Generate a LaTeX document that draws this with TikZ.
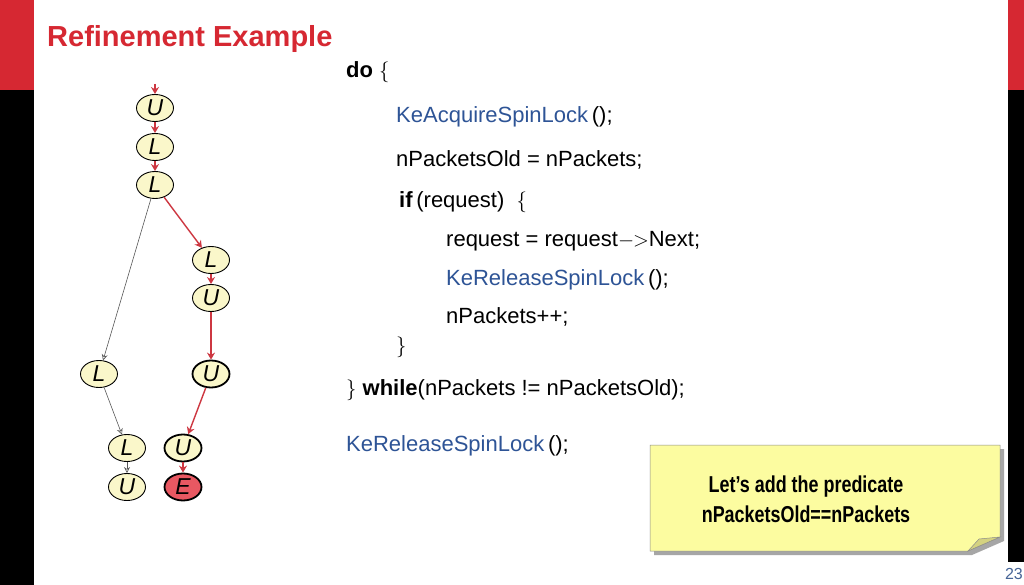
\documentclass[tikz,border=0pt]{standalone}
\usepackage{fontspec}
\usepackage{graphicx}
\setmainfont{Liberation Sans}
\usetikzlibrary{shapes.geometric,arrows.meta}
\definecolor{slidered}{RGB}{214,40,50}
\definecolor{codeblue}{RGB}{46,84,150}
\definecolor{nodefill}{RGB}{250,247,202}
\definecolor{edgered}{RGB}{205,55,65}
\definecolor{errfill}{RGB}{232,88,98}
\definecolor{notefill}{RGB}{252,252,160}
\definecolor{notefold}{RGB}{212,210,128}
\definecolor{pagenum}{RGB}{70,100,150}
\tikzset{
  st/.style={ellipse,draw=black,line width=0.9pt,fill=nodefill,minimum width=37pt,minimum height=27pt,inner sep=0pt,font=\fontsize{23}{23}\selectfont\itshape},
  bold/.style={line width=1.8pt},
  redge/.style={draw=edgered,line width=1.4pt,-{Stealth[length=7pt,width=8pt]}},
  gedge/.style={draw=black!65,line width=0.6pt,-{Stealth[length=6pt,width=6pt,open]}},
  code/.style={anchor=base west,inner sep=0pt,font=\fontsize{22}{22}\selectfont},
}
\begin{document}
\begin{tikzpicture}[x=1pt,y=-1pt]
\useasboundingbox (0,0) rectangle (1024,585);
\fill[white] (0,0) rectangle (1024,585);
% side bars
\fill[slidered] (0,0) rectangle (34,90);
\fill[black] (0,90) rectangle (34,585);
\fill[slidered] (1008,0) rectangle (1024,90);
\fill[black] (1008,90) rectangle (1024,562);
% title
\node[anchor=west,inner sep=0pt,text=slidered,font=\fontsize{29}{29}\selectfont\bfseries] (title) at (47,39) {Refinement Example};
% tree
\coordinate (top) at (155,84);
\node[st] (u1) at (155,108) {U};
\node[st] (l1) at (155,147) {L};
\node[st] (l2) at (155,185) {L};
\node[st] (l3) at (211,260) {L};
\node[st] (u2) at (211,298) {U};
\node[st] (l4) at (99,374) {L};
\node[st,bold] (u3) at (211,374) {U};
\node[st] (l5) at (127,448) {L};
\node[st] (u4) at (127,487) {U};
\node[st,bold] (u5) at (183,448) {U};
\node[st,bold,fill=errfill] (e) at (183,487) {E};
\draw[redge] (top) -- (u1);
\draw[redge] (u1) -- (l1);
\draw[redge] (l1) -- (l2);
\draw[redge] (l2) -- (l3);
\draw[redge] (l3) -- (u2);
\draw[redge] (u2) -- (u3);
\draw[redge] (u3) -- (u5);
\draw[redge] (u5) -- (e);
\draw[gedge] (l2) -- (l4);
\draw[gedge] (l4) -- (l5);
\draw[gedge] (l5) -- (u4);
% code
\node[code] (c1) at (346,78) {\textbf{do} $\{$};
\node[code,text=codeblue] (c2) at (396,123) {KeAcquireSpinLock\,\textcolor{black}{();}};
\node[code] (c3) at (396,167) {nPacketsOld = nPackets;};
\node[code] (c4) at (399,208) {\textbf{if}\,(request) \ $\{$};
\node[code] (c5) at (446,246) {request = request$-\!\!>$Next;};
\node[code,text=codeblue] (c6) at (446,285) {KeReleaseSpinLock\,\textcolor{black}{();}};
\node[code] (c7) at (446,323) {nPackets++;};
\node[code] (c8) at (396,352) {$\}$};
\node[code] (c9) at (346,395) {$\}$ \textbf{while}(nPackets != nPacketsOld);};
\node[code,text=codeblue] (c10) at (346,451) {KeReleaseSpinLock\,\textcolor{black}{();}};
% sticky note
\fill[black!35] (654,449) -- (1004,449) -- (1004,541) -- (972,555) -- (654,555) -- cycle;
\filldraw[fill=notefill,draw=black!45,line width=0.5pt] (650,445) -- (1000,445) -- (1000,537) -- (968,551) -- (650,551) -- cycle;
\filldraw[fill=notefold,draw=black!45,line width=0.5pt] (968,551) -- (979,539) -- (1000,537) -- cycle;
\node[align=center,inner sep=0pt,font=\fontsize{23}{30}\selectfont\bfseries] (note) at (806,499)
  {\scalebox{0.78}[1]{Let’s add the predicate}\\\scalebox{0.78}[1]{nPacketsOld==nPackets}};
% page number
\node[anchor=east,inner sep=0pt,text=pagenum,font=\fontsize{16}{16}\selectfont] (pg) at (1023,574) {23};
\end{tikzpicture}
\end{document}
